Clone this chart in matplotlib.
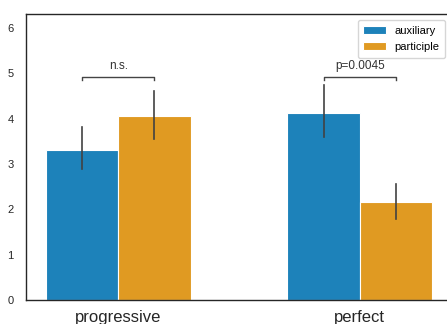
import matplotlib.pyplot as plt
import numpy as np

# data
conditions = ['progressive', 'perfect']
series = ['auxiliary', 'participle']
means_aux = [3.31, 4.13]
means_part = [4.06, 2.16]
ci_low_aux = [2.89, 3.60]
ci_high_aux = [3.81, 4.74]
ci_low_part = [3.55, 1.79]
ci_high_part = [4.61, 2.56]
annot = ['n.s.', 'p=0.0045']

plt.rcParams['font.family'] = ['Liberation Sans', 'DejaVu Sans']

fig = plt.figure(figsize=(4.47, 3.24), dpi=100)
# axes runs just past the right edge of the image, like the reference crop
ax = fig.add_axes([26 / 447, 24 / 324, 426 / 447, 286 / 324])

blue = '#1d82ba'
orange = '#e09a22'
w = 0.3
x = np.arange(len(conditions))

ax.bar(x - w / 2, means_aux, w, color=blue, edgecolor='white', linewidth=0.8, label=series[0])
ax.bar(x + w / 2, means_part, w, color=orange, edgecolor='white', linewidth=0.8, label=series[1])

# confidence intervals
for i in range(len(conditions)):
    ax.plot([x[i] - w / 2] * 2, [ci_low_aux[i], ci_high_aux[i]], color='#424242', lw=1.2)
    ax.plot([x[i] + w / 2] * 2, [ci_low_part[i], ci_high_part[i]], color='#424242', lw=1.2)

# significance brackets
y_br = 4.92
h = 0.06
for i in range(len(conditions)):
    x1, x2 = x[i] - w / 2, x[i] + w / 2
    ax.plot([x1, x1, x2, x2], [y_br - h, y_br, y_br, y_br - h], color='#444444', lw=1.0)
    ax.text(x[i], y_br + 0.12, annot[i], ha='center', va='bottom', fontsize=8.5, color='#333333')

ax.set_xlim(-0.382, 1.382)
ax.set_ylim(0, 6.31)
ax.set_yticks(range(7))
ax.set_xticks(x)
ax.set_xticklabels(conditions, fontsize=12, color='#262626')
ax.tick_params(axis='y', labelsize=8, colors='#262626', length=0, pad=9)
ax.tick_params(axis='x', length=0, pad=7)
for s in ax.spines.values():
    s.set_color('#262626')
    s.set_linewidth(1.0)

leg = ax.legend(loc='upper right', bbox_to_anchor=(445 / 447, 1 - 20 / 324),
                bbox_transform=fig.transFigure, fontsize=8, frameon=True,
                handlelength=2.0, borderaxespad=0.0, borderpad=0.5, labelspacing=0.6)
leg.get_frame().set_edgecolor('#cccccc')

fig.savefig('out.png', dpi=100)
